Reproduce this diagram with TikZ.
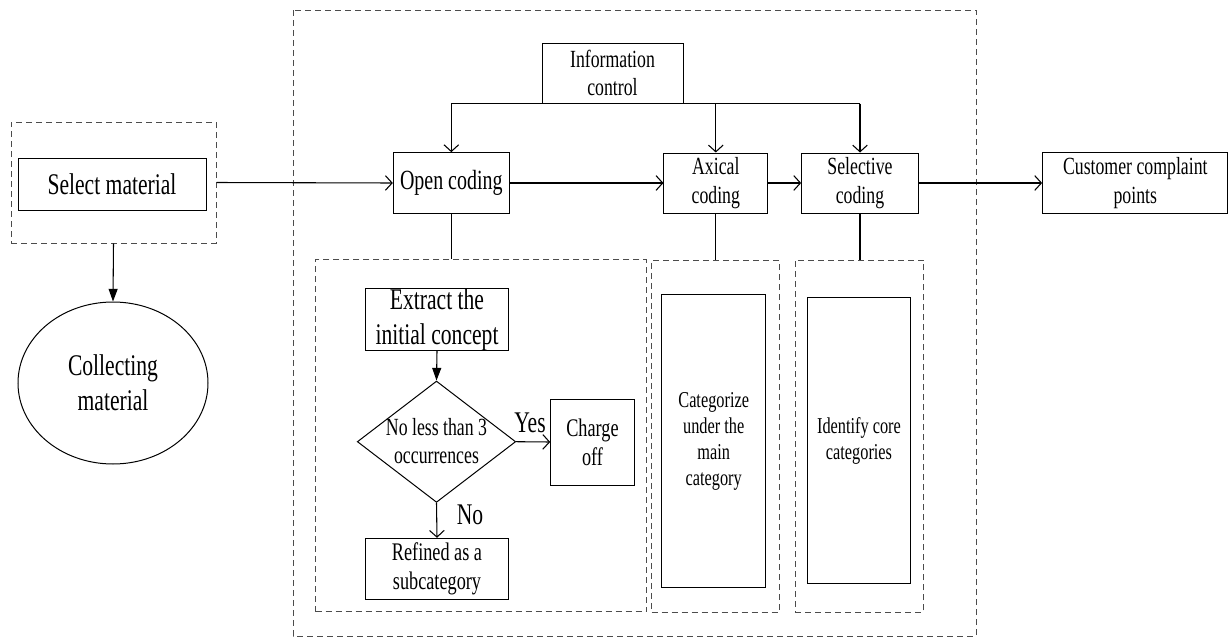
\documentclass[tikz,border=0pt]{standalone}
\usepackage{fontspec}
\setmainfont{Liberation Serif}[FakeStretch=0.72]
\usetikzlibrary{arrows.meta,shapes.geometric}

\tikzset{
box/.style={draw, line width=0.75pt, align=center, inner sep=0pt},
grp/.style={draw=black!70, dash pattern=on 4.5pt off 3pt, line width=0.75pt, inner sep=0pt},
openarr/.style={-{Straight Barb[length=5pt,width=11pt]}, line width=0.8pt},
fillarr/.style={-{Triangle[length=9.5pt,width=6.75pt]}, line width=0.8pt},
txta/.style={font=\fontsize{22.5}{26}\selectfont},
txtb/.style={font=\fontsize{18.5}{21.5}\selectfont},
txtc/.style={font=\fontsize{17}{19.5}\selectfont}}
\tikzset{every picture/.style={line width=0.75pt}}

\begin{document}
\begin{tikzpicture}[x=0.75pt,y=0.75pt,yscale=-1,xscale=1]
\useasboundingbox (0,0) rectangle (1229,639);

%Shape: Rectangle [outer dashed frame]
\draw [grp] (293,10) rectangle (976,636);

%Left part
\node [grp, minimum width=153.75pt, minimum height=90.75pt] (selgrp) at (113.5,182.5) {};
\node [box, txta, minimum width=141pt, minimum height=39pt] (select) at (112,184) {Select material};
\node [box, ellipse, txta, minimum width=142.5pt, minimum height=121.5pt] (collect) at (113,383) {Collecting\\material};

%Top row
\node [box, txtb, minimum width=105.75pt, minimum height=45pt] (info) at (612.5,73) {Information\\control};
\node [box, font=\fontsize{20.8}{24}\selectfont, minimum width=87pt, minimum height=45.5pt] (open) at (451.3,183) {Open coding};
\node [box, txtb, minimum width=77.8pt, minimum height=45pt] (axial) at (715.8,183) {Axical\\coding};
\node [box, txtb, minimum width=87.5pt, minimum height=45pt] (selective) at (860,183) {Selective\\coding};
\node [box, txtb, minimum width=139pt, minimum height=45.75pt] (complaint) at (1135.3,183) {Customer complaint\\points};

%Dashed groups
\node [grp, minimum width=248.25pt, minimum height=263.8pt] (opengrp) at (481.2,435.8) {};
\node [grp, minimum width=95.7pt, minimum height=264pt] (axgrp) at (715.5,436) {};
\node [grp, minimum width=96.2pt, minimum height=264pt] (selgrp2) at (859.2,436) {};

%Open coding steps
\node [box, txta, minimum width=107pt, minimum height=45.5pt] (extract) at (437,319.7) {Extract the\\initial concept};
\node [box, diamond, minimum width=118.8pt, minimum height=91pt] (decide) at (436.5,441.7) {};
\node [txtb, align=center, inner sep=0pt] (decidetxt) at (436.5,441) {No less than 3\\occurrences};
\node [box, font=\fontsize{19}{22}\selectfont, minimum width=62.7pt, minimum height=64.5pt] (charge) at (592.5,442) {Charge\\off};
\node [box, font=\fontsize{19}{22}\selectfont, minimum width=107pt, minimum height=45.75pt] (refined) at (437,568.8) {Refined as a\\subcategory};
\node [txta] (yes) at (530,423) {Yes};
\node [txta] (no) at (470,515) {No};

%Inner category boxes
\node [box, txtc, minimum width=78pt, minimum height=219.5pt] (axin) at (713.7,441.3) {Categorize\\under the\\main\\category};
\node [box, txtc, minimum width=77.5pt, minimum height=214.2pt] (selin) at (859,440.5) {Identify core\\categories};

%Connectors
\draw [openarr] (selgrp.east) -- (open.west);
\draw [fillarr] (selgrp.south) -- (collect.north);
\draw [line width=0.8pt] (info.south -| open) -- (info.south -| selective);
\draw [openarr] (info.south -| open) -- (open.north);
\draw [openarr] (info.south -| axial) -- (axial.north);
\draw [openarr] (info.south -| selective) -- (selective.north);
\draw [openarr] (open.east) -- (axial.west);
\draw [openarr] (axial.east) -- (selective.west);
\draw [openarr] (selective.east) -- (complaint.west);
\draw [line width=0.8pt] (open.south) -- (open |- opengrp.north);
\draw [line width=0.8pt] (axial.south) -- (axial |- axgrp.north);
\draw [line width=0.8pt] (selective.south) -- (selective |- selgrp2.north);
\draw [fillarr] (extract.south) -- (decide.north);
\draw [openarr] (decide.east) -- (charge.west);
\draw [openarr] (decide.south) -- (refined.north);
\end{tikzpicture}
\end{document}
